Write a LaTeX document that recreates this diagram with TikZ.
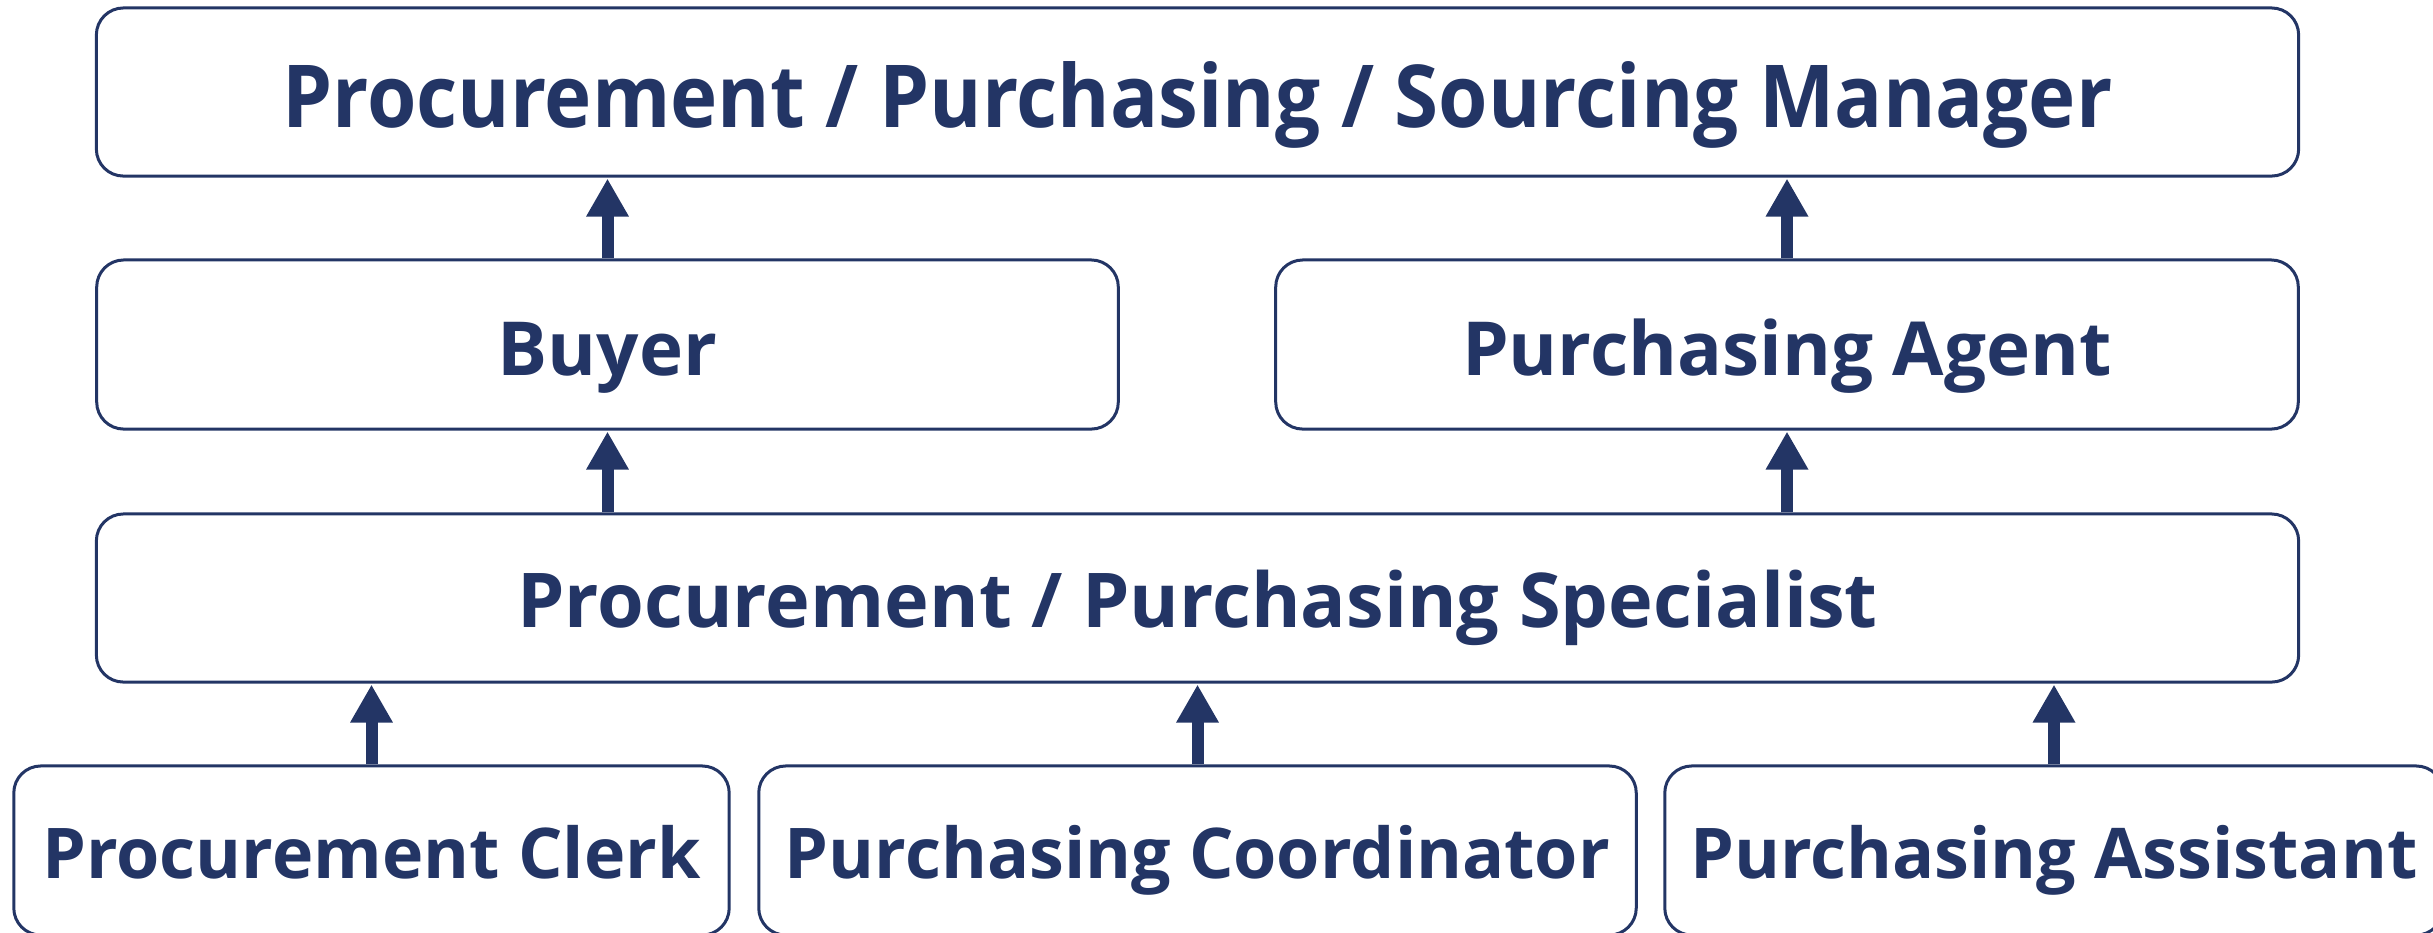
\documentclass[tikz,border=0pt]{standalone}
\usepackage{fontspec}
\setmainfont{Open Sans}
\newfontfamily\narrowfont[FakeStretch=0.92]{Open Sans}
\usetikzlibrary{arrows.meta,calc}
\definecolor{navy}{HTML}{233565}
\begin{document}
\begin{tikzpicture}[x=0.01cm,y=-0.01cm,
  box/.style={draw=navy, line width=0.03cm, rounded corners=0.27cm, inner sep=0pt,
    text=navy, font=\bfseries, text depth=0pt},
  uparrow/.style={draw=navy, line width=0.12cm, -{Triangle[width=0.40cm,length=0.38cm]}, shorten >=0.01cm}
]
\useasboundingbox (0,0) rectangle (2433,932);
\node[box, minimum width=22.01cm, minimum height=1.68cm, font=\narrowfont\bfseries\fontsize{24.7}{28}\selectfont, text height=0.70cm] (top) at (1197.5,92) {Procurement / Purchasing / Sourcing Manager};
\node[box, minimum width=10.21cm, minimum height=1.69cm, font=\bfseries\fontsize{21.2}{25}\selectfont, text height=0.61cm] (buyer) at (607.5,344.5) {Buyer};
\node[box, minimum width=10.22cm, minimum height=1.69cm, font=\bfseries\fontsize{21.2}{25}\selectfont, text height=0.61cm] (agent) at (1787,344.5) {Purchasing Agent};
\node[box, minimum width=22.01cm, minimum height=1.68cm, font=\bfseries\fontsize{21.5}{25}\selectfont, text height=0.58cm] (spec) at (1197.5,598) {Procurement / Purchasing Specialist};
\node[box, minimum width=7.15cm, minimum height=1.69cm, font=\bfseries\fontsize{19.9}{23}\selectfont, text height=0.55cm] (clerk) at (371.5,850.5) {Procurement Clerk};
\node[box, minimum width=8.77cm, minimum height=1.69cm, font=\bfseries\fontsize{19.9}{23}\selectfont, text height=0.55cm] (coord) at (1197.5,850.5) {Purchasing Coordinator};
\node[box, minimum width=7.78cm, minimum height=1.69cm, font=\bfseries\fontsize{19.9}{23}\selectfont, text height=0.55cm] (assist) at (2054,850.5) {Purchasing Assistant};
\draw[uparrow] (buyer.north) -- (buyer.north |- top.south);
\draw[uparrow] (agent.north) -- (agent.north |- top.south);
\draw[uparrow] (spec.north -| buyer.south) -- (buyer.south);
\draw[uparrow] (spec.north -| agent.south) -- (agent.south);
\draw[uparrow] (clerk.north) -- (clerk.north |- spec.south);
\draw[uparrow] (coord.north) -- (coord.north |- spec.south);
\draw[uparrow] (assist.north) -- (assist.north |- spec.south);
\end{tikzpicture}
\end{document}
